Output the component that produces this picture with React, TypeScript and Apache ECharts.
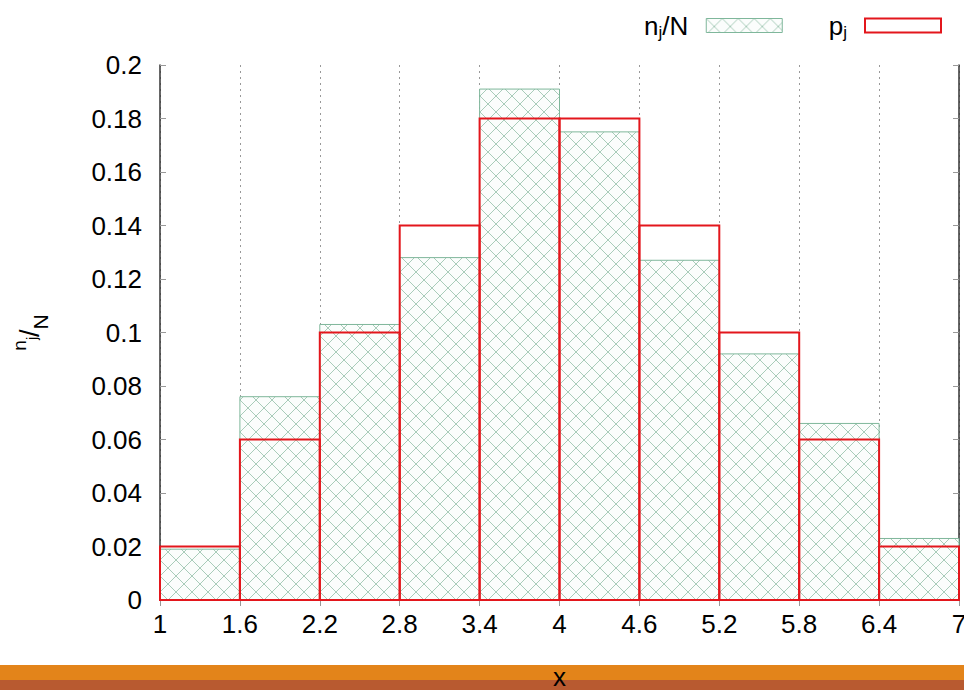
import React, { useEffect, useRef } from "react";
import * as echarts from "echarts";

const binEdges = [1, 1.6, 2.2, 2.8, 3.4, 4, 4.6, 5.2, 5.8, 6.4, 7];
const observed = [0.019, 0.076, 0.103, 0.128, 0.191, 0.175, 0.127, 0.092, 0.066, 0.023];
const expected = [0.02, 0.06, 0.1, 0.14, 0.18, 0.18, 0.14, 0.1, 0.06, 0.02];
const xTickValues = [1, 1.6, 2.2, 2.8, 3.4, 4, 4.6, 5.2, 5.8, 6.4, 7];
const seriesNames = ["n_j/N", "p_j"];

const FONT = "Liberation Sans";
const FS = 26;
const SUB = 17;

const hatchSvg =
  "<svg xmlns='http://www.w3.org/2000/svg' width='16' height='16'>" +
  "<rect width='16' height='16' fill='#fbfdfc'/>" +
  "<path d='M0 0L16 16M16 0L0 16' stroke='#9fc6b2' stroke-width='0.9'/></svg>";
const hatchUrl = "data:image/svg+xml;charset=utf-8," + encodeURIComponent(hatchSvg);
const hatch: any = { image: hatchUrl, repeat: "repeat", imageWidth: 16, imageHeight: 16 };

const GREEN_EDGE = "#7fb79b";
const RED = "#e3161c";

export default function App() {
  const ref = useRef<HTMLDivElement>(null);
  useEffect(() => {
    if (!ref.current) return;
    const chart = echarts.init(ref.current, null, { renderer: "svg" });
    const obsData = observed.map((v, i) => [binEdges[i], binEdges[i + 1], v]);
    const expData = expected.map((v, i) => [binEdges[i], binEdges[i + 1], v]);
    const rectItem = (style: any) => (params: any, api: any) => {
      const p0 = api.coord([api.value(0), api.value(2)]);
      const p1 = api.coord([api.value(1), 0]);
      return {
        type: "rect",
        shape: { x: p0[0], y: p0[1], width: p1[0] - p0[0], height: p1[1] - p0[1] },
        style,
      };
    };
    const rich = {
      n: { fontFamily: FONT, fontSize: FS, color: "#000", lineHeight: 28 },
      s: { fontFamily: FONT, fontSize: SUB, color: "#000", lineHeight: 17, padding: [14, 0, 0, 0] },
    };
    const yNameRich = {
      a: { fontFamily: FONT, fontSize: 19, color: "#000", lineHeight: 19, padding: [0, 0, 20, 0] },
      b: { fontFamily: FONT, fontSize: 14, color: "#000", lineHeight: 14, padding: [4, 0, 0, 0] },
      c: { fontFamily: FONT, fontSize: 27, color: "#000", lineHeight: 27 },
      d: { fontFamily: FONT, fontSize: 21, color: "#000", lineHeight: 21, padding: [22, 0, 0, 0] },
    };
    chart.setOption({
      animation: false,
      backgroundColor: "#fff",
      grid: { left: 160, right: 5, top: 65, bottom: 90, containLabel: false, outerBoundsMode: "none" },
      legend: {
        right: 22,
        top: 10,
        padding: 0,
        align: "right",
        itemWidth: 76,
        itemHeight: 14,
        itemGap: 46,
        icon: "rect",
        selectedMode: false,
        textStyle: { padding: [0, 13, 0, 0], rich },
        formatter: (name: string) =>
          name === seriesNames[0] ? "{n|n}{s|j}{n|/N}" : "{n|p}{s|j}",
        data: [
          { name: seriesNames[0], itemStyle: { color: hatch, borderColor: GREEN_EDGE, borderWidth: 1 } },
          { name: seriesNames[1], itemStyle: { color: "#fff", borderColor: RED, borderWidth: 2 } },
        ],
      },
      xAxis: [
        {
          type: "value",
          position: "bottom",
          min: 1,
          max: 7,
          name: "x",
          nameLocation: "middle",
          nameGap: 64,
          nameTextStyle: { fontFamily: FONT, fontSize: FS, color: "#000" },
          axisLine: { show: true, lineStyle: { color: "#333", width: 1.5 } },
          axisTick: { show: true, inside: false, length: 6, customValues: xTickValues, lineStyle: { color: "#999" } },
          axisLabel: {
            customValues: xTickValues,
            fontFamily: FONT,
            fontSize: FS,
            color: "#000",
            margin: 11,
            formatter: (v: number) => String(+v.toFixed(1)),
          },
          splitLine: { show: true, lineStyle: { color: "#999", type: [2, 4], width: 1 } },
        },
        {
          type: "value",
          position: "top",
          min: 1,
          max: 7,
          axisLine: { show: true, lineStyle: { color: "#333", width: 1.5 } },
          axisTick: { show: true, inside: false, length: 6, customValues: xTickValues, lineStyle: { color: "#999" } },
          axisLabel: { show: false, customValues: xTickValues },
          splitLine: { show: false },
        },
      ],
      yAxis: [
        {
          type: "value",
          position: "left",
          min: 0,
          max: 0.2,
          interval: 0.02,
          name: "{a|n}{b|j}{c|/}{d|N}",
          nameLocation: "middle",
          nameRotate: 90,
          nameGap: 117,
          nameTextStyle: { rich: yNameRich },
          axisLine: { show: true, lineStyle: { color: "#333", width: 1.5 } },
          axisTick: { show: true, inside: true, length: 6, lineStyle: { color: "#999" } },
          axisLabel: { fontFamily: FONT, fontSize: FS, color: "#000", margin: 18 },
          splitLine: { show: false },
        },
        {
          type: "value",
          position: "right",
          min: 0,
          max: 0.2,
          interval: 0.02,
          axisLine: { show: true, lineStyle: { color: "#333", width: 1.5 } },
          axisTick: { show: true, inside: true, length: 6, lineStyle: { color: "#999" } },
          axisLabel: { show: false },
          splitLine: { show: false },
        },
      ],
      graphic: [
        { type: "rect", z: -10, shape: { x: 0, y: 665, width: 964, height: 15 }, style: { fill: "#e3841a" } },
        { type: "rect", z: -10, shape: { x: 0, y: 680, width: 964, height: 10 }, style: { fill: "#b85a30" } },
      ],
      series: [
        {
          name: seriesNames[0],
          type: "custom",
          xAxisIndex: 0,
          yAxisIndex: 0,
          encode: { x: [0, 1], y: 2 },
          data: obsData,
          renderItem: rectItem({ fill: hatch, stroke: GREEN_EDGE, lineWidth: 1 }),
          z: 2,
        },
        {
          name: seriesNames[1],
          type: "custom",
          xAxisIndex: 0,
          yAxisIndex: 0,
          encode: { x: [0, 1], y: 2 },
          data: expData,
          renderItem: rectItem({ fill: "none", stroke: RED, lineWidth: 2 }),
          z: 3,
        },
      ],
    });
    return () => chart.dispose();
  }, []);
  return (
    <div
      ref={ref}
      style={{ position: "absolute", left: 0, top: 0, width: 964, height: 690 }}
    />
  );
}
